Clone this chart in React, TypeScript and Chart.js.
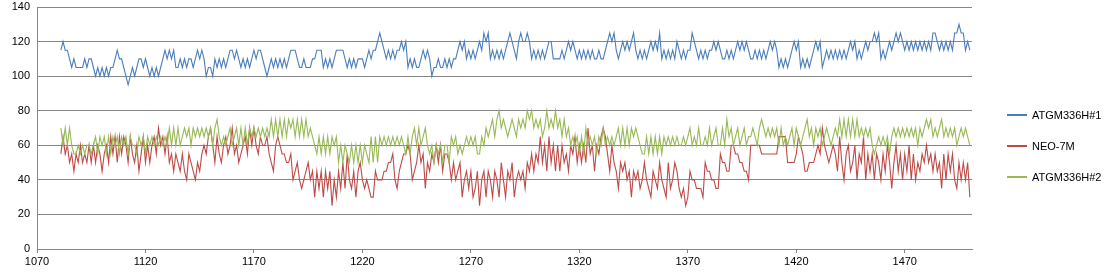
import React, { useEffect, useRef } from "react";
import { Chart, registerables } from "chart.js";

Chart.register(...registerables);

const SERIES_NAMES = ["ATGM336H#1", "NEO-7M", "ATGM336H#2"];
const SERIES_COLORS = ["#4A7EBB", "#BE4B48", "#98B954"];
const X_START = 1081;
const X_MIN = 1070;
const X_MAX = 1501;
const X_TICKS = [1070, 1120, 1170, 1220, 1270, 1320, 1370, 1420, 1470];
const Y_TICKS = [0, 20, 40, 60, 80, 100, 120, 140];

const ATGM1 = [
  115, 120, 115, 115, 110, 105, 110, 105, 105, 105, 105, 110, 105, 110, 110, 105, 100, 105, 100, 105, 100, 105, 100, 105, 105, 110, 115, 110, 110, 105, 100, 95, 100, 105,
  100, 105, 110, 110, 105, 110, 105, 100, 105, 100, 105, 100, 105, 110, 115, 110, 115, 110, 115, 105, 105, 110, 105, 110, 105, 110, 110, 105, 110, 115, 110, 115, 110, 100, 105, 105,
  100, 110, 105, 110, 105, 110, 105, 110, 115, 115, 110, 115, 110, 105, 110, 105, 110, 105, 110, 115, 110, 115, 115, 110, 105, 100, 105, 110, 105, 110, 105, 110, 105, 110, 105, 110,
  115, 115, 115, 110, 105, 105, 110, 105, 105, 105, 110, 110, 115, 115, 115, 105, 110, 105, 110, 105, 110, 115, 115, 115, 115, 110, 105, 110, 105, 110, 105, 110, 110, 110, 105, 110,
  115, 110, 115, 115, 120, 125, 120, 115, 110, 115, 110, 115, 110, 115, 115, 120, 115, 120, 105, 110, 105, 110, 105, 105, 110, 115, 110, 115, 110, 100, 105, 105, 110, 105, 105, 110,
  105, 110, 105, 110, 110, 115, 120, 115, 120, 110, 115, 110, 115, 110, 115, 120, 115, 125, 120, 125, 110, 115, 110, 115, 110, 115, 110, 115, 120, 125, 120, 115, 110, 120, 125, 120,
  120, 125, 120, 110, 115, 110, 115, 110, 115, 110, 115, 120, 120, 110, 110, 110, 110, 115, 110, 115, 120, 115, 120, 115, 110, 115, 110, 115, 110, 115, 110, 115, 110, 110, 115, 110,
  110, 115, 120, 125, 120, 125, 115, 110, 115, 120, 115, 120, 115, 120, 125, 115, 110, 115, 110, 115, 110, 115, 120, 115, 120, 115, 125, 110, 115, 110, 115, 110, 115, 110, 120, 115,
  110, 115, 110, 115, 115, 125, 120, 115, 110, 115, 110, 115, 110, 115, 115, 120, 115, 120, 115, 110, 110, 115, 110, 115, 110, 115, 120, 115, 120, 115, 120, 115, 110, 110, 115, 110,
  115, 110, 115, 110, 115, 120, 115, 120, 115, 105, 110, 105, 110, 105, 110, 115, 120, 115, 120, 105, 110, 105, 110, 105, 110, 115, 120, 115, 120, 105, 110, 115, 110, 115, 110, 115,
  110, 115, 110, 115, 110, 115, 120, 115, 120, 110, 115, 110, 115, 120, 115, 120, 120, 125, 120, 125, 110, 115, 110, 115, 120, 115, 120, 125, 120, 125, 120, 115, 120, 115, 120, 115,
  120, 115, 120, 115, 120, 115, 120, 115, 125, 125, 120, 115, 120, 115, 120, 115, 120, 115, 125, 125, 130, 125, 125, 115, 120, 115,
];

const NEO7M = [
  55, 65, 55, 60, 50, 55, 45, 55, 50, 60, 50, 55, 50, 60, 50, 60, 50, 60, 55, 45, 55, 60, 50, 65, 55, 65, 50, 65, 55, 65, 60, 50, 65, 55,
  50, 60, 45, 55, 65, 50, 60, 50, 60, 65, 55, 70, 60, 65, 55, 65, 50, 55, 45, 55, 50, 45, 55, 45, 40, 55, 50, 45, 40, 50, 45, 55, 60, 55, 65, 70,
  60, 50, 65, 55, 50, 60, 65, 55, 60, 70, 55, 60, 50, 55, 60, 65, 55, 70, 60, 70, 60, 55, 65, 60, 60, 65, 55, 50, 45, 60, 65, 60, 55, 55, 50, 50,
  55, 40, 45, 50, 40, 35, 40, 45, 50, 40, 45, 30, 45, 35, 45, 30, 45, 35, 45, 25, 40, 30, 45, 35, 50, 35, 55, 40, 35, 45, 30, 45, 50, 40, 35, 40,
  35, 30, 30, 45, 40, 40, 40, 45, 45, 50, 50, 55, 40, 35, 45, 50, 55, 55, 60, 55, 40, 45, 50, 60, 50, 55, 35, 50, 45, 55, 50, 60, 50, 60, 45, 55,
  55, 50, 40, 50, 40, 45, 50, 30, 40, 45, 35, 45, 30, 35, 45, 25, 40, 45, 30, 45, 40, 30, 45, 40, 30, 50, 40, 30, 45, 40, 50, 30, 40, 45, 40, 45,
  35, 50, 45, 55, 45, 55, 50, 65, 50, 60, 45, 65, 50, 60, 45, 60, 45, 60, 50, 55, 45, 60, 55, 65, 50, 60, 50, 60, 50, 70, 55, 60, 45, 60, 55, 65,
  70, 65, 55, 45, 60, 50, 45, 35, 50, 45, 50, 40, 45, 30, 45, 40, 45, 35, 40, 50, 40, 35, 30, 45, 40, 35, 50, 40, 35, 30, 50, 35, 40, 50, 45, 35,
  30, 35, 25, 30, 45, 40, 40, 35, 35, 35, 30, 50, 45, 45, 40, 40, 35, 35, 55, 50, 50, 45, 45, 60, 60, 55, 55, 50, 50, 45, 45, 40, 60, 60, 60, 60,
  60, 55, 55, 55, 55, 55, 55, 55, 55, 65, 65, 65, 65, 50, 50, 50, 50, 55, 65, 60, 55, 45, 45, 50, 50, 50, 55, 60, 55, 70, 60, 55, 50, 55, 60, 55,
  45, 65, 50, 40, 55, 60, 45, 50, 60, 40, 55, 50, 65, 40, 55, 45, 55, 40, 55, 50, 40, 55, 45, 60, 50, 35, 50, 60, 45, 55, 40, 55, 45, 60, 40, 55,
  40, 50, 45, 55, 50, 60, 50, 55, 45, 55, 45, 50, 35, 55, 40, 55, 45, 55, 40, 35, 50, 40, 50, 40, 50, 30,
];

const ATGM2 = [
  70, 60, 70, 60, 70, 60, 55, 55, 60, 55, 60, 55, 60, 60, 55, 60, 65, 55, 65, 60, 65, 55, 65, 55, 65, 60, 65, 55, 65, 60, 65, 55, 65, 60,
  60, 55, 65, 60, 65, 55, 65, 60, 65, 60, 65, 60, 65, 60, 65, 60, 70, 60, 70, 60, 70, 60, 65, 70, 65, 70, 60, 70, 65, 70, 65, 70, 65, 70, 65, 70,
  60, 70, 75, 65, 60, 65, 60, 65, 70, 60, 65, 70, 60, 70, 60, 70, 60, 70, 65, 70, 65, 70, 65, 70, 65, 70, 65, 75, 65, 75, 65, 75, 65, 75, 65, 75,
  70, 75, 65, 75, 65, 75, 65, 75, 65, 70, 65, 60, 55, 65, 55, 65, 55, 65, 55, 65, 60, 65, 50, 60, 50, 60, 55, 50, 60, 50, 60, 50, 60, 50, 60, 55,
  50, 65, 50, 65, 50, 65, 60, 65, 60, 65, 60, 65, 60, 65, 60, 65, 60, 55, 65, 55, 65, 70, 60, 70, 60, 65, 70, 60, 55, 60, 50, 60, 55, 60, 50, 60,
  60, 50, 65, 60, 65, 55, 60, 55, 60, 65, 60, 65, 60, 65, 55, 55, 65, 60, 70, 65, 70, 75, 65, 75, 80, 70, 75, 70, 65, 70, 75, 70, 65, 75, 70, 75,
  70, 80, 75, 80, 70, 75, 70, 75, 65, 70, 80, 70, 75, 70, 80, 70, 75, 65, 75, 65, 70, 60, 65, 60, 65, 55, 65, 55, 70, 60, 65, 60, 65, 55, 65, 60,
  70, 60, 65, 60, 65, 60, 65, 70, 60, 70, 60, 70, 60, 70, 65, 70, 65, 60, 55, 55, 65, 55, 65, 55, 65, 55, 65, 55, 65, 60, 65, 60, 65, 60, 65, 60,
  60, 65, 60, 65, 70, 60, 65, 60, 70, 60, 60, 65, 60, 70, 60, 65, 70, 60, 60, 70, 60, 75, 65, 70, 60, 65, 70, 60, 65, 70, 60, 65, 65, 70, 65, 60,
  70, 75, 70, 65, 70, 65, 70, 65, 70, 60, 70, 60, 65, 60, 65, 70, 60, 70, 65, 60, 65, 70, 75, 65, 70, 60, 70, 65, 70, 60, 65, 70, 65, 60, 65, 70,
  65, 75, 65, 75, 65, 75, 65, 75, 65, 75, 65, 70, 65, 70, 65, 70, 60, 55, 60, 65, 60, 65, 60, 65, 55, 65, 70, 65, 70, 65, 70, 65, 70, 65, 70, 65,
  70, 60, 70, 65, 70, 75, 70, 75, 65, 70, 65, 70, 75, 65, 70, 65, 70, 65, 70, 60, 65, 70, 65, 70, 65, 60,
];

const SERIES_VALUES = [ATGM1, NEO7M, ATGM2];
const LEGEND_Y = [115, 146, 177];

const FONT_FAMILY = "'Liberation Sans', Arial, sans-serif";
const GRID_COLOR = "#868686";

export default function App() {
  const canvasRef = useRef<HTMLCanvasElement | null>(null);

  useEffect(() => {
    document.body.style.margin = "0";
    const canvas = canvasRef.current;
    if (!canvas) return;
    const datasets = SERIES_VALUES.map((vals, s) => ({
      label: SERIES_NAMES[s],
      data: vals.map((v, i) => ({ x: X_START + i, y: v })),
      borderColor: SERIES_COLORS[s],
      backgroundColor: SERIES_COLORS[s],
      borderWidth: 1.1,
      pointRadius: 0,
      tension: 0,
      fill: false,
      order: 2 - s,
    }));
    const chart = new Chart(canvas, {
      type: "line",
      data: { datasets },
      options: {
        animation: false,
        responsive: false,
        maintainAspectRatio: false,
        layout: { padding: { top: 7, right: 148, left: 0, bottom: 0 } },
        plugins: { legend: { display: false }, tooltip: { enabled: false } },
        scales: {
          x: {
            type: "linear",
            min: X_MIN,
            max: X_MAX,
            afterBuildTicks: (axis: any) => {
              axis.ticks = X_TICKS.map((v) => ({ value: v }));
            },
            afterFit: (axis: any) => {
              axis.height = 31;
              axis.paddingRight = 0;
            },
            grid: { drawOnChartArea: false, drawTicks: true, tickLength: 4, color: GRID_COLOR },
            border: { display: true, color: GRID_COLOR, width: 1 },
            ticks: {
              font: { family: FONT_FAMILY, size: 11 },
              color: "#000000",
              padding: 2,
              maxRotation: 0,
              autoSkip: false,
              callback: (v: any) => String(v),
            },
          },
          y: {
            type: "linear",
            min: 0,
            max: 140,
            afterBuildTicks: (axis: any) => {
              axis.ticks = Y_TICKS.map((v) => ({ value: v }));
            },
            afterFit: (axis: any) => {
              axis.width = 37;
              axis.paddingTop = 0;
              axis.paddingBottom = 0;
            },
            grid: { drawOnChartArea: true, drawTicks: false, color: GRID_COLOR },
            border: { display: true, color: GRID_COLOR, width: 1 },
            ticks: {
              font: { family: FONT_FAMILY, size: 11 },
              color: "#000000",
              padding: 7,
              callback: (v: any) => String(v),
            },
          },
        },
      },
    });
    return () => chart.destroy();
  }, []);

  return (
    <div style={{ position: "relative", width: 1120, height: 280, background: "#ffffff" }}>
      <canvas ref={canvasRef} width={1120} height={280} style={{ display: "block" }} />
      {SERIES_NAMES.map((name, s) => (
        <div key={name}>
          <div
            style={{
              position: "absolute",
              left: 1007,
              top: LEGEND_Y[s] - 1,
              width: 20,
              height: 2,
              background: SERIES_COLORS[s],
            }}
          />
          <div
            style={{
              position: "absolute",
              left: 1032,
              top: LEGEND_Y[s] - 7,
              height: 14,
              lineHeight: "14px",
              fontFamily: FONT_FAMILY,
              fontSize: 11,
              color: "#000000",
              whiteSpace: "nowrap",
            }}
          >
            {name}
          </div>
        </div>
      ))}
    </div>
  );
}
